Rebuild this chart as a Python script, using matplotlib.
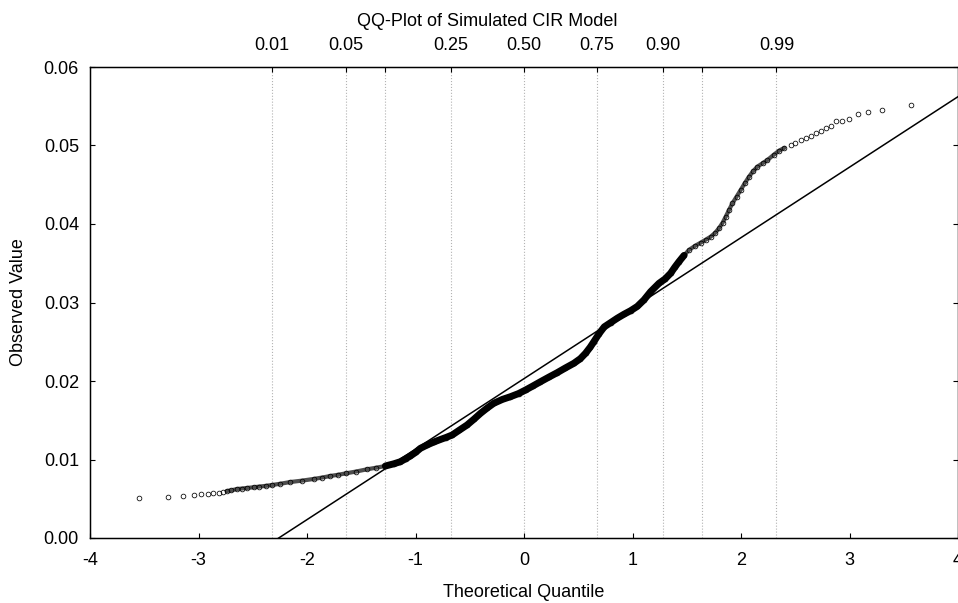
import matplotlib.pyplot as plt
import numpy as np
from statistics import NormalDist

plt.rcParams['font.family'] = ['Liberation Sans', 'DejaVu Sans']
plt.rcParams['axes.unicode_minus'] = False

# %% == data ==
# theoretical (standard normal) quantile of each plotted point
theo_q = [-3.544, -3.282, -3.147, -3.046, -2.975, -2.913, -2.862, -2.815, -2.775,
          -2.740, -2.700, -2.646, -2.600, -2.550, -2.493, -2.440, -2.380, -2.323,
          -2.250, -2.154, -2.050, -1.939, -1.860, -1.785, -1.710, -1.640, -1.550,
          -1.447, -1.360, -1.278, -1.200, -1.139, -1.090, -1.047, -1.000, -0.955,
          -0.893, -0.832, -0.770, -0.720, -0.662, -0.600, -0.524, -0.460, -0.401,
          -0.340, -0.279, -0.200, -0.125, -0.050, 0.014, 0.080, 0.152, 0.230,
          0.306, 0.380, 0.459, 0.520, 0.567, 0.610, 0.644, 0.690, 0.740, 0.800,
          0.860, 0.921, 0.982, 1.044, 1.105, 1.167, 1.244, 1.300, 1.351, 1.390,
          1.428, 1.475, 1.520, 1.575, 1.628, 1.675, 1.720, 1.760, 1.797, 1.830,
          1.859, 1.890, 1.921, 1.960, 1.997, 2.035, 2.074, 2.110, 2.151, 2.200,
          2.244, 2.300, 2.351, 2.400, 2.459, 2.500, 2.551, 2.600, 2.643, 2.690,
          2.735, 2.780, 2.827, 2.874, 2.935, 2.991, 3.074, 3.166, 3.304, 3.565]

# observed short rate of each point
obs_val = [0.00505, 0.00518, 0.00533, 0.00550, 0.00558, 0.00560, 0.00569, 0.00578, 0.00590,
           0.00598, 0.00606, 0.00624, 0.00630, 0.00638, 0.00646, 0.00655, 0.00664, 0.00675,
           0.00690, 0.00713, 0.00730, 0.00752, 0.00770, 0.00790, 0.00806, 0.00824, 0.00846,
           0.00875, 0.00896, 0.00917, 0.00945, 0.00972, 0.01010, 0.01045, 0.01090, 0.01142,
           0.01185, 0.01222, 0.01255, 0.01280, 0.01312, 0.01370, 0.01440, 0.01515, 0.01588,
           0.01655, 0.01716, 0.01765, 0.01800, 0.01840, 0.01885, 0.01935, 0.01991, 0.02050,
           0.02106, 0.02165, 0.02225, 0.02285, 0.02353, 0.02430, 0.02501, 0.02600, 0.02690, 0.02745,
           0.02800, 0.02850, 0.02895, 0.02950, 0.03032, 0.03138, 0.03244, 0.03300, 0.03372, 0.03450,
           0.03520, 0.03600, 0.03669, 0.03720, 0.03762, 0.03800, 0.03838, 0.03885, 0.03945, 0.04015,
           0.04093, 0.04180, 0.04263, 0.04350, 0.04433, 0.04520, 0.04603, 0.04670, 0.04730, 0.04775,
           0.04815, 0.04880, 0.04934, 0.04970, 0.05006, 0.05035, 0.05070, 0.05095, 0.05121, 0.05155,
           0.05189, 0.05220, 0.05248, 0.05316, 0.05316, 0.05340, 0.05397, 0.05422, 0.05452, 0.05512]

# probabilities marked on the top axis
probs = [0.01, 0.05, 0.10, 0.25, 0.50, 0.75, 0.90, 0.95, 0.99]
prob_labels = ['0.01', '0.05', '', '0.25', '0.50', '0.75', '0.90', '', '0.99']

# straight reference line
line_intercept = 0.0203
line_slope = 0.00898

# %% == plot ==
theo_q = np.array(theo_q)
obs_val = np.array(obs_val)
prob_z = [NormalDist().inv_cdf(p) for p in probs]

fig = plt.figure(figsize=(9.58, 6.03), dpi=100)
ax = fig.add_axes([90 / 958, 65 / 603, 868 / 958, 471 / 603])

for z in prob_z:
    ax.axvline(z, color='0.7', ls=':', lw=0.8, zorder=0)

# where the points pile up they form a solid band
dense = (theo_q > -1.3) & (theo_q < 1.5)
mid = (theo_q > -2.76) & (theo_q < 2.42)
ax.plot(theo_q[mid], obs_val[mid], color='0.3', lw=3.0, solid_capstyle='round', zorder=2)
ax.plot(theo_q[dense], obs_val[dense], color='black', lw=5.0, solid_capstyle='round', zorder=2)
ax.plot(theo_q, obs_val, 'o', mfc='none', mec='black', ms=3.4, mew=0.55, zorder=3)

xs = np.array([-4.0, 4.0])
ax.plot(xs, line_intercept + line_slope * xs, color='black', lw=1.1, zorder=4)

ax.set_xlim(-4, 4)
ax.set_ylim(0, 0.06)
ax.set_xticks(range(-4, 5))
ax.set_yticks([0, 0.01, 0.02, 0.03, 0.04, 0.05, 0.06])
ax.set_yticklabels(['0.00', '0.01', '0.02', '0.03', '0.04', '0.05', '0.06'])
ax.tick_params(axis='x', direction='in', length=3.5, width=0.8, labelsize=13, pad=10)
ax.tick_params(axis='y', direction='in', length=3.5, width=0.8, labelsize=13, pad=8, right=True)
for s in ax.spines.values():
    s.set_linewidth(1.0)

ax.set_xlabel("Theoretical Quantile", fontsize=13, labelpad=11)
ax.set_ylabel("Observed Value", fontsize=13, labelpad=12)

ax2 = ax.twiny()
ax2.set_xlim(-4, 4)
ax2.set_xticks(prob_z)
ax2.set_xticklabels(prob_labels)
ax2.tick_params(axis='x', direction='in', length=3.5, width=0.8, labelsize=13, pad=9)

fig.text(487.5 / 958, 1 - 22 / 603, "QQ-Plot of Simulated CIR Model",
         fontsize=13, ha='center', va='center')

fig.savefig("out.png", dpi=100)
